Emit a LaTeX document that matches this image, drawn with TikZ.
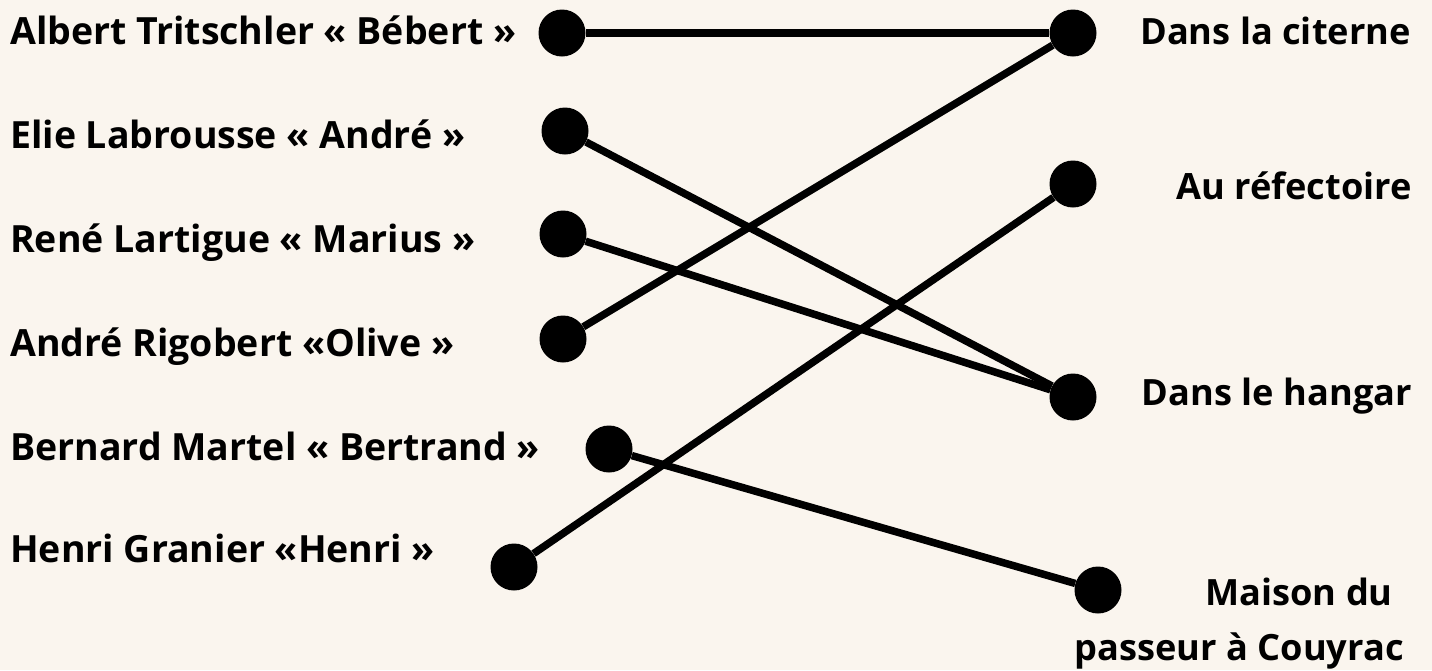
\documentclass[tikz,border=0pt]{standalone}
\usepackage{fontspec}
\setmainfont{Open Sans}
\definecolor{bgcream}{HTML}{FAF5EE}
\begin{document}
\begin{tikzpicture}[x=1pt,y=-1pt,
  dot/.style={circle,fill=black,inner sep=0pt,minimum size=47pt},
  link/.style={line width=7.5pt,draw=black},
  lbl/.style={inner sep=0pt,font=\fontsize{37.5}{44}\selectfont\bfseries},
  rlbl/.style={inner sep=0pt,font=\fontsize{36.2}{44}\selectfont\bfseries}]
\fill[bgcream] (0,0) rectangle (1432,670);
\useasboundingbox (0,0) rectangle (1432,670);
% left labels
\node[lbl,anchor=base west] (tA) at (10,44) {Albert Tritschler « Bébert »};
\node[lbl,anchor=base west] (tE) at (10,148) {Elie Labrousse « André »};
\node[lbl,anchor=base west] (tR) at (10,252) {René Lartigue « Marius »};
\node[lbl,anchor=base west] (tO) at (10,356) {André Rigobert «Olive »};
\node[lbl,anchor=base west] (tB) at (10,460) {Bernard Martel « Bertrand »};
\node[lbl,anchor=base west] (tH) at (10,562) {Henri Granier «Henri »};
% right labels
\node[rlbl,anchor=base east] (tC) at (1411,44) {Dans la citerne};
\node[rlbl,anchor=base east] (tF) at (1412,199) {Au réfectoire};
\node[rlbl,anchor=base east] (tG) at (1412,405) {Dans le hangar};
\node[rlbl,anchor=base east] (tM1) at (1393,605) {Maison du};
\node[rlbl,anchor=base east] (tM2) at (1404,660) {passeur à Couyrac};
% dots
\node[dot] (dA) at (562,33) {};
\node[dot] (dE) at (565,131) {};
\node[dot] (dR) at (563,234) {};
\node[dot] (dO) at (563,339) {};
\node[dot] (dB) at (609,449) {};
\node[dot] (dH) at (514,567) {};
\node[dot] (dC) at (1073,33) {};
\node[dot] (dF) at (1073,184) {};
\node[dot] (dG) at (1073,397) {};
\node[dot] (dM) at (1098,590) {};
% links
\draw[link] (dA) -- (dC);
\draw[link] (dE) -- (dG);
\draw[link] (dR) -- (dG);
\draw[link] (dO) -- (dC);
\draw[link] (dB) -- (dM);
\draw[link] (dH) -- (dF);
\end{tikzpicture}
\end{document}
